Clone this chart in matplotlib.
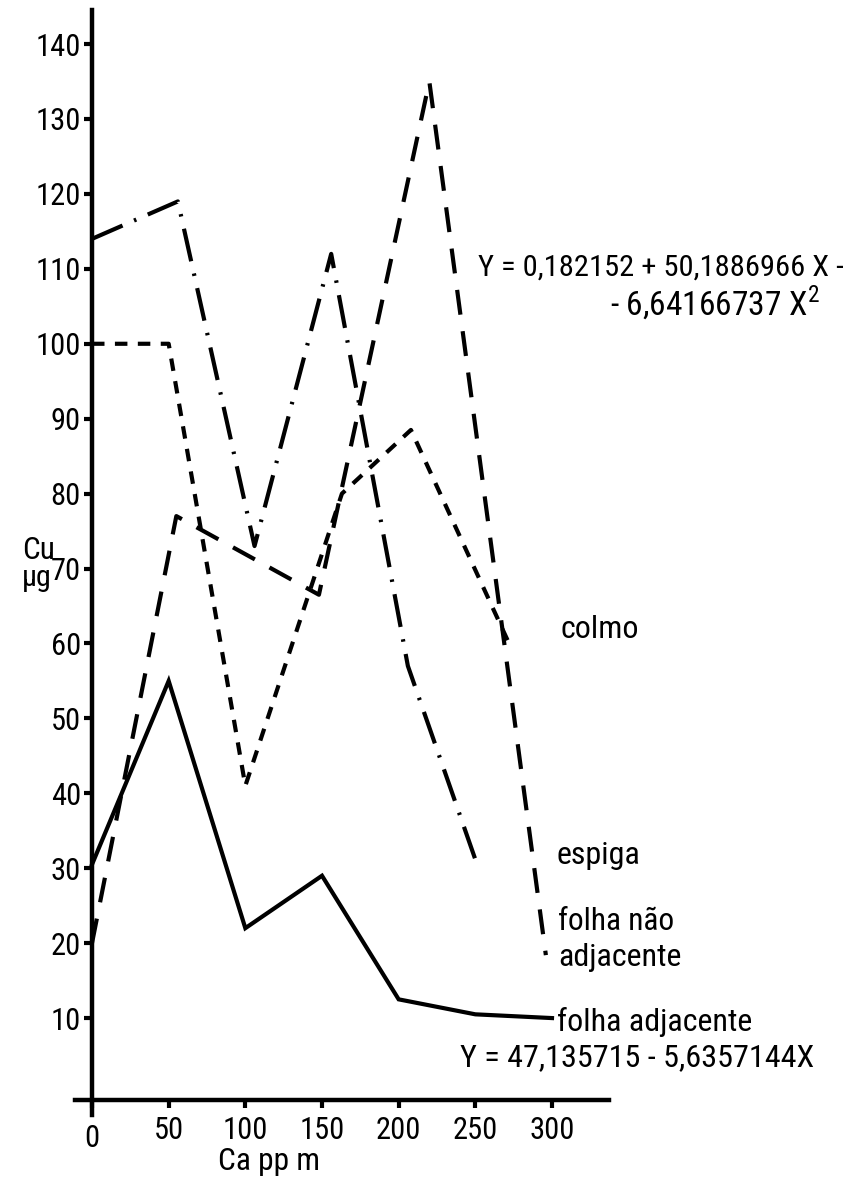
import matplotlib
matplotlib.use("Agg")
import matplotlib.pyplot as plt
from matplotlib import font_manager
from matplotlib.transforms import ScaledTranslation

# ---- data ----
x_ticks = [0, 50, 100, 150, 200, 250, 300]
y_ticks = [10, 20, 30, 40, 50, 60, 70, 80, 90, 100, 110, 120, 130, 140]

colmo_x = [0, 50, 100, 163, 208, 272]
colmo_y = [100, 100, 41, 80, 88.5, 60]

espiga_x = [0, 56, 106, 156, 206, 252]
espiga_y = [114, 119, 73, 112, 57, 30]

fna_x = [0, 55, 148, 220, 296]          # folha não adjacente
fna_y = [20, 77, 66.5, 135, 18.4]

fa_x = [0, 50, 100, 150, 200, 250, 300]  # folha adjacente
fa_y = [30.5, 55, 22, 29, 12.5, 10.5, 10]

W, H = 847, 1177

# pick a narrow font if one is installed
fam = None
stretch = 'normal'
names = {f.name for f in font_manager.fontManager.ttflist}
for cand in ['Liberation Sans Narrow', 'Roboto Condensed', 'Open Sans Condensed',
             'DejaVu Sans Condensed', 'Noto Sans Condensed']:
    if cand in names:
        fam = cand
        break
if fam is None:
    for f in font_manager.fontManager.ttflist:
        if f.name == 'DejaVu Sans' and str(f.stretch) in ('condensed', '300', 'semi-condensed'):
            fam = 'DejaVu Sans'
            stretch = 'condensed'
            break
if fam is None:
    fam = 'Liberation Sans' if 'Liberation Sans' in names else 'DejaVu Sans'
plt.rcParams['font.family'] = [fam, 'DejaVu Sans']
plt.rcParams['font.stretch'] = stretch
plt.rcParams['mathtext.fontset'] = 'custom'
plt.rcParams['mathtext.rm'] = fam

fig = plt.figure(figsize=(W / 100, H / 100), dpi=100)
fig.patch.set_facecolor('white')

def fx(px):
    return px / W

def fy(py):
    return 1 - py / H

# axes placement (pixel geometry of the reference)
x0, x1 = -11, 337
y0, y1 = -3, 144.6
pxu = 460 / 300.0
pyu = 974 / 130.0
left_px = 92 + x0 * pxu
right_px = 92 + x1 * pxu
bot_px = 1093 - y0 * pyu
top_px = 1093 - y1 * pyu
ax = fig.add_axes([fx(left_px), fy(bot_px), (right_px - left_px) / W, (bot_px - top_px) / H])
ax.set_xlim(x0, x1)
ax.set_ylim(y0, y1)

lw = 3.0
ax.plot(fa_x, fa_y, color='black', lw=lw, solid_joinstyle='miter')
ax.plot(fna_x, fna_y, color='black', lw=lw, dashes=(6, 4))
ax.plot(espiga_x, espiga_y, color='black', lw=lw, dashes=(8, 3, 0.6, 3))
ax.plot(colmo_x, colmo_y, color='black', lw=lw, dashes=(3, 2.5))

for s in ['top', 'right']:
    ax.spines[s].set_visible(False)
ax.spines['left'].set_position(('data', 0))
ax.spines['bottom'].set_position(('data', -1))
for s in ['left', 'bottom']:
    ax.spines[s].set_linewidth(3.2)

renderer = fig.canvas.get_renderer()

def fit_size(s, width_px, max_fs, **kw):
    t = fig.text(0, 0, s, fontsize=max_fs, **kw)
    w = t.get_window_extent(renderer).width
    t.remove()
    return min(max_fs, max_fs * width_px / w)

tick_fs = fit_size('140', 49, 22)
ax.set_xticks(x_ticks)
ax.set_yticks(y_ticks)
ax.set_xticklabels([str(v) for v in x_ticks])
ax.set_yticklabels([str(v) for v in y_ticks])
ax.tick_params(axis='both', direction='out', length=6, width=3, labelsize=tick_fs, pad=2)
ax.tick_params(axis='x', pad=5)
# the "0" label sits a little lower in the reference
lab0 = ax.get_xticklabels()[0]
lab0.set_transform(lab0.get_transform() + ScaledTranslation(0, -6 / 72, fig.dpi_scale_trans))

def put(px, py, s, width_px, max_fs, ha='left'):
    fs = fit_size(s, width_px, max_fs)
    fig.text(fx(px), fy(py), s, fontsize=fs, va='center', ha=ha)

# axis labels
put(22, 550, 'Cu', 33, 23)
put(22, 578, 'µg', 30, 23)
put(218, 1161, 'Ca pp m', 102, 24)

# series labels
put(560, 630, 'colmo', 100, 23)
put(557, 855, 'espiga', 93, 23)
put(558, 922, 'folha não', 117, 23)
put(558, 957, 'adjacente', 150, 23)
put(557, 1022, 'folha adjacente', 271, 23)

# equations
put(478, 268, 'Y = 0,182152 + 50,1886966 X -', 365, 24)
put(610, 303, '- 6,64166737 X$^{2}$', 228, 24)
put(460, 1058, 'Y = 47,135715 - 5,6357144X', 355, 24)

fig.savefig('out.png', dpi=100, facecolor='white')
